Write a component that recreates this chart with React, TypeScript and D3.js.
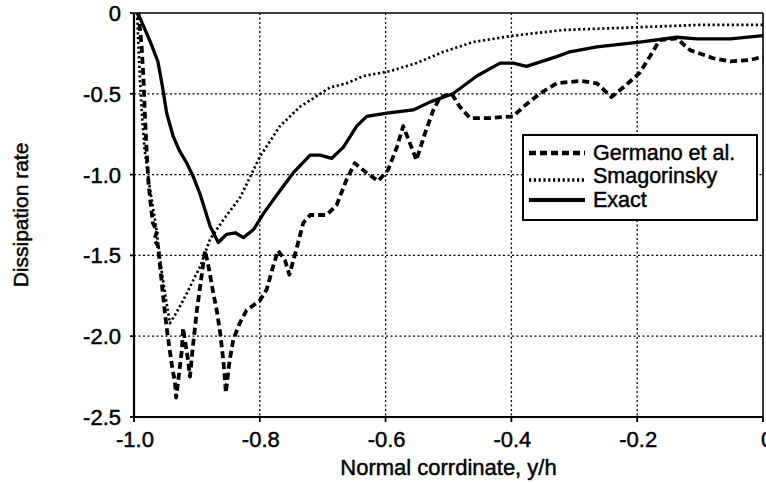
import React from "react";
import * as d3 from "d3";

const xTicks = [-1.0, -0.8, -0.6, -0.4, -0.2, 0];
const xTickLabels = ["-1.0", "-0.8", "-0.6", "-0.4", "-0.2", "0"];
const yTicks = [0, -0.5, -1.0, -1.5, -2.0, -2.5];
const yTickLabels = ["0", "-0.5", "-1.0", "-1.5", "-2.0", "-2.5"];

const legendLabels = ["Germano et al.", "Smagorinsky", "Exact"];

const germanoX = [-0.993, -0.988, -0.985, -0.983, -0.98, -0.977, -0.973, -0.97, -0.963, -0.968, -0.962, -0.959, -0.955, -0.951, -0.947, -0.943, -0.939, -0.935, -0.933, -0.928, -0.924, -0.922, -0.918, -0.914, -0.911, -0.906, -0.9, -0.892, -0.887, -0.881, -0.874, -0.868, -0.863, -0.858, -0.855, -0.854, -0.848, -0.842, -0.832, -0.821, -0.8, -0.789, -0.779, -0.771, -0.76, -0.753, -0.741, -0.731, -0.72, -0.694, -0.678, -0.662, -0.649, -0.63, -0.612, -0.596, -0.582, -0.572, -0.561, -0.551, -0.537, -0.524, -0.513, -0.495, -0.482, -0.466, -0.434, -0.397, -0.381, -0.355, -0.328, -0.291, -0.264, -0.241, -0.222, -0.196, -0.18, -0.164, -0.137, -0.116, -0.079, -0.052, -0.02, 0];
const germanoY = [0, -0.2, -0.4, -0.6, -0.85, -1.05, -1.2, -1.3, -1.35, -1.4, -1.44, -1.55, -1.7, -1.85, -1.98, -2.09, -2.2, -2.28, -2.38, -2.22, -2.09, -1.95, -2.05, -2.15, -2.25, -2.05, -1.84, -1.61, -1.47, -1.58, -1.73, -1.85, -1.98, -2.15, -2.29, -2.35, -2.15, -2.02, -1.92, -1.84, -1.78, -1.71, -1.57, -1.47, -1.53, -1.62, -1.45, -1.3, -1.25, -1.25, -1.19, -1.03, -0.93, -0.99, -1.04, -0.97, -0.83, -0.7, -0.81, -0.91, -0.74, -0.6, -0.52, -0.5, -0.58, -0.65, -0.65, -0.64, -0.58, -0.5, -0.435, -0.42, -0.435, -0.52, -0.46, -0.37, -0.27, -0.167, -0.157, -0.23, -0.28, -0.3, -0.29, -0.27];

const smagX = [-0.995, -0.993, -0.99, -0.987, -0.983, -0.975, -0.965, -0.956, -0.948, -0.943, -0.935, -0.922, -0.895, -0.879, -0.858, -0.831, -0.8, -0.768, -0.736, -0.704, -0.688, -0.662, -0.635, -0.593, -0.551, -0.508, -0.461, -0.397, -0.317, -0.211, -0.105, 0];
const smagY = [0, -0.2, -0.45, -0.65, -0.85, -1.08, -1.32, -1.6, -1.8, -1.92, -1.87, -1.78, -1.57, -1.4, -1.28, -1.14, -0.89, -0.7, -0.58, -0.5, -0.46, -0.435, -0.39, -0.36, -0.31, -0.24, -0.18, -0.14, -0.105, -0.09, -0.074, -0.074];

const exactX = [-0.994, -0.985, -0.975, -0.962, -0.955, -0.948, -0.938, -0.928, -0.916, -0.905, -0.895, -0.879, -0.866, -0.853, -0.839, -0.826, -0.81, -0.794, -0.768, -0.747, -0.72, -0.704, -0.686, -0.667, -0.646, -0.63, -0.598, -0.556, -0.529, -0.493, -0.455, -0.418, -0.397, -0.376, -0.328, -0.307, -0.264, -0.196, -0.137, -0.105, -0.052, 0];
const exactY = [0, -0.08, -0.17, -0.3, -0.45, -0.62, -0.76, -0.85, -0.93, -1.02, -1.12, -1.32, -1.42, -1.37, -1.36, -1.39, -1.34, -1.24, -1.1, -0.99, -0.88, -0.88, -0.9, -0.83, -0.7, -0.64, -0.62, -0.6, -0.55, -0.5, -0.39, -0.31, -0.31, -0.33, -0.27, -0.24, -0.21, -0.18, -0.15, -0.16, -0.16, -0.14];

const W = 766;
const H = 483;
const left = 134;
const right = 763;
const top = 13;
const bottom = 417;
const FONT = "'Liberation Sans', Arial, Helvetica, sans-serif";
const TS = { fontFamily: FONT, fill: "#000", stroke: "#000", strokeWidth: 0.45 } as const;

export default function App() {
  const x = d3.scaleLinear().domain([-1, 0]).range([left, right]);
  const y = d3.scaleLinear().domain([-2.5, 0]).range([bottom, top]);
  const line = d3
    .line<[number, number]>()
    .x((d) => x(d[0]))
    .y((d) => y(d[1]));

  const zip = (a: number[], b: number[]) => a.map((v, i) => [v, b[i]] as [number, number]);

  const series = [
    { pts: zip(germanoX, germanoY), dash: "7 4", w: 3.8 },
    { pts: zip(smagX, smagY), dash: "2.2 2.6", w: 2.7 },
    { pts: zip(exactX, exactY), dash: "none", w: 3.3 },
  ];

  const lx = 523;
  const ly = 135;
  const lw = 234;
  const lh = 85;
  const sampleY = [153, 180, 200];
  const textY = [160, 183, 207];

  return (
    <div style={{ position: "absolute", left: 0, top: 0 }}>
      <svg width={W} height={H} style={{ display: "block", background: "#fff" }}>
        <rect x={0} y={0} width={W} height={H} fill="#fff" />
        {xTicks.slice(1, -1).map((t) => (
          <line key={"gx" + t} x1={x(t)} x2={x(t)} y1={top} y2={bottom} stroke="#000" strokeWidth={1.3} strokeDasharray="2 2.5" />
        ))}
        {yTicks.slice(1, -1).map((t) => (
          <line key={"gy" + t} x1={left} x2={right} y1={y(t)} y2={y(t)} stroke="#000" strokeWidth={1.3} strokeDasharray="2 2.5" />
        ))}
        <line x1={left} x2={right} y1={top} y2={top} stroke="#000" strokeWidth={1.6} />
        <line x1={right} x2={right} y1={top} y2={bottom} stroke="#000" strokeWidth={1.6} />
        <line x1={left} x2={right} y1={bottom} y2={bottom} stroke="#000" strokeWidth={2.2} />
        <line x1={left} x2={left} y1={top} y2={bottom} stroke="#000" strokeWidth={2.2} />
        {xTicks.map((t) => (
          <line key={"tx" + t} x1={x(t)} x2={x(t)} y1={bottom} y2={bottom + 5} stroke="#000" strokeWidth={1.8} />
        ))}
        {yTicks.map((t) => (
          <line key={"ty" + t} x1={left - 4} x2={left} y1={y(t)} y2={y(t)} stroke="#000" strokeWidth={1.8} />
        ))}
        {xTicks.map((t, i) => (
          <text key={"lx" + t} x={x(t) + (t === 0 ? 4 : 1)} y={447} textAnchor="middle" fontSize={22} {...TS}>
            {xTickLabels[i]}
          </text>
        ))}
        {yTicks.map((t, i) => (
          <text key={"ly" + t} x={121} y={y(t) + 8} textAnchor="end" fontSize={22} {...TS}>
            {yTickLabels[i]}
          </text>
        ))}
        <text x={(left + right) / 2} y={475} textAnchor="middle" fontSize={22} {...TS}>
          Normal corrdinate, y/h
        </text>
        <text
          transform={`translate(28, ${(top + bottom) / 2}) rotate(-90)`}
          textAnchor="middle"
          fontSize={21}
          {...TS}
        >
          Dissipation rate
        </text>
        <defs>
          <clipPath id="clipPlot">
            <rect x={left} y={top - 3} width={right - left + 3} height={bottom - top + 3} />
          </clipPath>
        </defs>
        <g clipPath="url(#clipPlot)">
          {series.map((s, i) => (
            <path
              key={"s" + i}
              d={line(s.pts) || ""}
              fill="none"
              stroke="#000"
              strokeWidth={s.w}
              strokeDasharray={s.dash}
              strokeLinejoin="round"
            />
          ))}
        </g>
        <rect x={lx} y={ly} width={lw} height={lh} fill="#fff" stroke="#000" strokeWidth={2} />
        {series.map((s, i) => (
          <g key={"lg" + i}>
            <line x1={lx + 6} x2={lx + 62} y1={sampleY[i]} y2={sampleY[i]} stroke="#000" strokeWidth={s.w + 0.6} strokeDasharray={s.dash} />
            <text x={lx + 70} y={textY[i]} fontSize={21.5} {...TS}>
              {legendLabels[i]}
            </text>
          </g>
        ))}
      </svg>
    </div>
  );
}
